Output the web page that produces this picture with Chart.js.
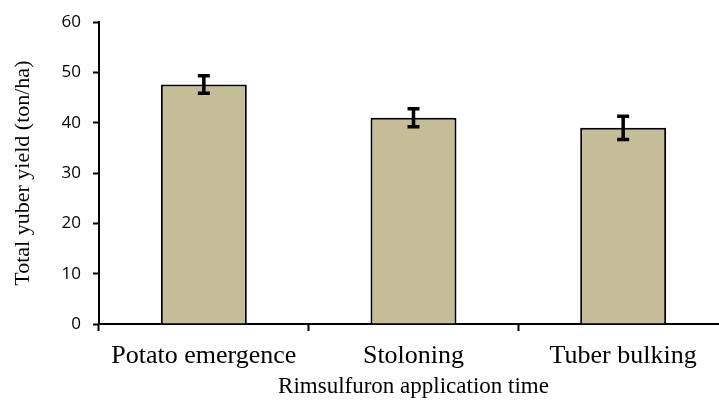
<!DOCTYPE html>
<html>
<head>
<meta charset="utf-8">
<script src="https://cdn.jsdelivr.net/npm/chart.js@4.4.1/dist/chart.umd.min.js"></script>
<style>
  html, body { margin: 0; padding: 0; background: #fff; overflow: hidden; }
  /* the x axis runs a little past the right edge of the picture */
  #wrap { width: 728px; height: 401px; position: relative; }
</style>
</head>
<body>
<div id="wrap"><canvas id="chart"></canvas></div>
<script>
// ===== DATA =====
const categories = ['Potato emergence', 'Stoloning', 'Tuber bulking'];
const yieldValues = [47.6, 41.0, 39.0];
const yieldErrors = [1.75, 1.8, 2.3];
const yTicks = [0, 10, 20, 30, 40, 50, 60];

// ===== ERROR BARS =====
const errorBarPlugin = {
    id: 'errorBars',
    afterDatasetsDraw(chart) {
        const ctx = chart.ctx;
        const meta = chart.getDatasetMeta(0);
        const yScale = chart.scales.y;
        ctx.save();
        ctx.strokeStyle = '#000';
        ctx.lineWidth = 3.5;
        meta.data.forEach((bar, i) => {
            const x = bar.x;
            const top = yScale.getPixelForValue(yieldValues[i] + yieldErrors[i]);
            const bottom = yScale.getPixelForValue(yieldValues[i] - yieldErrors[i]);
            ctx.beginPath();
            ctx.moveTo(x, top);
            ctx.lineTo(x, bottom);
            ctx.moveTo(x - 6, top);
            ctx.lineTo(x + 6, top);
            ctx.moveTo(x - 6, bottom);
            ctx.lineTo(x + 6, bottom);
            ctx.stroke();
        });
        ctx.restore();
    }
};

new Chart(document.getElementById('chart'), {
    type: 'bar',
    data: {
        labels: categories,
        datasets: [{
            data: yieldValues,
            backgroundColor: '#c4bd97',
            borderColor: '#000',
            borderWidth: 2,
            barPercentage: 0.41,
            categoryPercentage: 1.0
        }]
    },
    options: {
        responsive: true,
        maintainAspectRatio: false,
        animation: false,
        layout: { padding: { top: 22, right: 0, left: 0, bottom: 0 } },
        plugins: {
            legend: { display: false },
            tooltip: { enabled: false }
        },
        scales: {
            x: {
                afterFit(scale) { scale.height = 77; },
                grid: {
                    drawOnChartArea: false,
                    color: '#000',
                    tickLength: 7,
                    tickWidth: 2
                },
                border: { color: '#000', width: 2 },
                ticks: {
                    color: '#000',
                    padding: 10,
                    font: { family: "'Liberation Serif', serif", size: 26 }
                },
                title: {
                    display: true,
                    text: 'Rimsulfuron application time',
                    color: '#000',
                    padding: { top: 0, bottom: 0 },
                    font: { family: "'Liberation Serif', serif", size: 23 }
                }
            },
            y: {
                min: 0,
                max: 60,
                afterFit(scale) { scale.width = 99; },
                afterBuildTicks(scale) { scale.ticks = yTicks.map(v => ({ value: v })); },
                grid: {
                    drawOnChartArea: false,
                    color: '#000',
                    tickLength: 6,
                    tickWidth: 2
                },
                border: { color: '#000', width: 2 },
                ticks: {
                    color: '#000',
                    padding: 12,
                    font: { family: "'Open Sans', sans-serif", size: 17 }
                },
                title: {
                    display: true,
                    text: 'Total yuber yield (ton/ha)',
                    color: '#000',
                    padding: { top: 10, bottom: 0 },
                    font: { family: "'Liberation Serif', serif", size: 22 }
                }
            }
        }
    },
    plugins: [errorBarPlugin]
});
</script>
</body>
</html>
